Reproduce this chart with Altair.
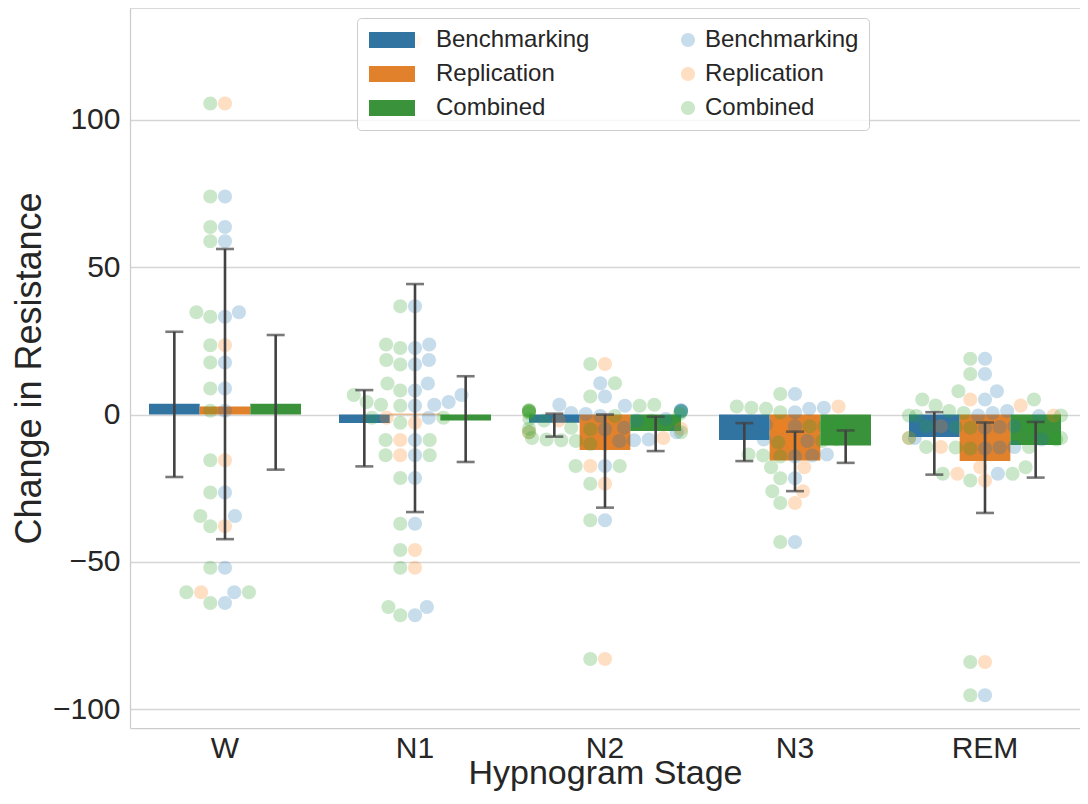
import altair as alt
import numpy as np
import pandas as pd

# ---------------- data ----------------
stages = ["W", "N1", "N2", "N3", "REM"]
series = ["Benchmarking", "Replication", "Combined"]

bench_W = [74.0, 63.7, 58.8, 34.7, 33.2, 17.7, 8.8, 1.3, -26.5, -34.4, -52.0, -60.3, -64.0]
rep_W = [105.6, 23.5, -15.5, -37.9, -60.3]
bench_N1 = [36.8, 23.8, 22.6, 18.5, 17.0, 10.5, 8.2, 6.6, 4.3, 3.3, 3.0, -1.1, -8.6,
            -13.8, -21.5, -37.1, -65.3, -68.1]
rep_N1 = [126.8, -1.1, -2.8, -8.6, -13.8, -46.0, -52.0]
bench_N2 = [10.6, 6.1, 3.3, 3.0, 1.5, 1.4, 1.2, 1.0, 0.5, 0.2, -0.5, -1.5, -2.0, -4.5,
            -5.0, -6.0, -8.5, -8.7, -9.0, -17.5, -35.9]
rep_N2 = [17.2, 1.0, -2.0, -4.8, -6.0, -8.0, -10.0, -17.5, -23.5, -83.0]
bench_N3 = [7.0, 2.3, 2.0, 0.8, -3.5, -4.0, -8.5, -9.0, -13.6, -13.9, -14.2, -21.6, -43.3]
rep_N3 = [2.7, -4.0, -9.5, -17.9, -26.0, -30.0]
bench_REM = [18.9, 13.8, 7.9, 5.1, 1.2, 0.5, -0.3, -0.5, -4.0, -4.2, -4.5, -8.0, -8.5,
             -11.0, -11.2, -11.5, -20.1, -95.3]
rep_REM = [5.1, 3.1, -0.3, -4.0, -8.0, -11.0, -17.9, -20.1, -22.4, -84.0]

mean_bench = [3.7, -2.9, -2.8, -8.6, -7.6]
mean_rep = [2.7, 0.3, -12.0, -15.6, -15.8]
mean_comb = [3.7, -2.0, -5.6, -10.5, -10.3]
ci_lo_bench = [-21.2, -17.6, -7.5, -15.8, -20.4]
ci_hi_bench = [28.1, 8.3, 0.3, -2.9, 0.8]
ci_lo_rep = [-42.3, -33.1, -31.6, -26.0, -33.4]
ci_hi_rep = [56.2, 44.3, 0.0, -5.8, -2.7]
ci_lo_comb = [-18.7, -16.1, -12.4, -16.4, -21.4]
ci_hi_comb = [27.0, 13.0, -0.7, -5.4, -2.5]

bar_colors = ["#3274a1", "#e1812c", "#3a923a"]
point_colors = ["#1f77b4", "#ff7f0e", "#2ca02c"]

# ---------------- layout constants ----------------
W, H = 950, 720
Y_DOMAIN = [-106.4, 138.0]
PX = H / (Y_DOMAIN[1] - Y_DOMAIN[0])
STEP = W / 5.0
HALF_BAND = 0.4 * STEP
R = 7.0


def swarm(vals):
    """Beeswarm offsets (pixels) computed from the values, seaborn style."""
    ys = np.asarray(vals, dtype=float) * PX
    order = np.argsort(ys, kind="stable")
    placed = []
    xs = np.zeros(len(ys))
    for idx in order:
        y = ys[idx]
        neigh = [(px, py) for (px, py) in placed if abs(y - py) < 2 * R]
        cands = [0.0]
        left = True
        for (px, py) in neigh:
            dx = np.sqrt(max((2 * R) ** 2 - (y - py) ** 2, 0.0)) * 1.05
            cands.extend([px - dx, px + dx] if left else [px + dx, px - dx])
            left = not left
        cands.sort(key=abs)
        chosen = cands[-1]
        for c in cands:
            if all((c - px) ** 2 + (y - py) ** 2 >= (2 * R) ** 2 * 0.999 for (px, py) in neigh):
                chosen = c
                break
        placed.append((chosen, y))
        xs[idx] = chosen
    return np.clip(xs, -HALF_BAND, HALF_BAND)


bench_all = [bench_W, bench_N1, bench_N2, bench_N3, bench_REM]
rep_all = [rep_W, rep_N1, rep_N2, rep_N3, rep_REM]

pt_rows = []
for st, b, r in zip(stages, bench_all, rep_all):
    vals = list(b) + list(r) + list(b) + list(r)
    labs = (["Benchmarking (points)"] * len(b) + ["Replication (points)"] * len(r)
            + ["Combined (points)"] * (len(b) + len(r)))
    offs = swarm(vals)
    for v, l, o in zip(vals, labs, offs):
        pt_rows.append({"stage": st, "series": l, "value": v, "off": float(o)})
pt_df = pd.DataFrame(pt_rows)

bar_rows = []
for i, st in enumerate(stages):
    for s, m, lo, hi in zip(series,
                            [mean_bench[i], mean_rep[i], mean_comb[i]],
                            [ci_lo_bench[i], ci_lo_rep[i], ci_lo_comb[i]],
                            [ci_hi_bench[i], ci_hi_rep[i], ci_hi_comb[i]]):
        bar_rows.append({"stage": st, "hue": s, "series": s, "mean": m, "base": 0.0,
                         "lo": lo, "hi": hi})
bar_df = pd.DataFrame(bar_rows)

# ---------------- scales & legend ----------------
legend_domain = ["Benchmarking", "Replication", "Combined",
                 "Benchmarking (points)", "Replication (points)", "Combined (points)"]
legend_colors = bar_colors + point_colors
legend_opac = [1, 1, 1, 0.25, 0.25, 0.25]
RECT = "M-5,-0.8H-0.4V0.8H-5Z"
CIRC = "M0.7,0A0.7,0.7,0,1,1,-0.7,0A0.7,0.7,0,1,1,0.7,0Z"
legend_shapes = [RECT, RECT, RECT, CIRC, CIRC, CIRC]

leg = alt.Legend(
    title=None, orient="none", legendX=227, legendY=10, columns=2,
    columnPadding=46, rowPadding=10, symbolSize=400, symbolStrokeWidth=0,
    symbolOffset=40, labelOffset=5,
    labelFontSize=24, labelFont="Liberation Sans", labelColor="#262626",
    labelLimit=400, padding=10, fillColor="rgba(255,255,255,0.8)",
    strokeColor="#cccccc", cornerRadius=4,
    labelExpr="replace(datum.label, ' (points)', '')",
)

color_enc = alt.Color("series:N", scale=alt.Scale(domain=legend_domain, range=legend_colors), legend=leg)
opac_enc = alt.Opacity("series:N", scale=alt.Scale(type="ordinal", domain=legend_domain, range=legend_opac), legend=leg)
shape_enc = alt.Shape("series:N", scale=alt.Scale(domain=legend_domain, range=legend_shapes), legend=leg)

x_enc = alt.X("stage:N", sort=stages,
              scale=alt.Scale(paddingInner=0.2, paddingOuter=0.1),
              axis=alt.Axis(title="Hypnogram Stage", labelAngle=0, grid=False, ticks=False,
                            labelPadding=5, titleY=55, titleBaseline="alphabetic"))
y_scale = alt.Scale(domain=Y_DOMAIN, nice=False, zero=False)
y_axis = alt.Axis(title="Change in Resistance", values=[-100, -50, 0, 50, 100], ticks=False,
                  labelPadding=10, titleX=-101, titleY=H / 2, titleBaseline="middle",
                  titleFontSize=36)
xoff_band = alt.XOffset("hue:N", sort=series, scale=alt.Scale(paddingInner=0, paddingOuter=0))

bars = alt.Chart(bar_df).mark_bar().encode(
    x=x_enc, xOffset=xoff_band,
    y=alt.Y("mean:Q", scale=y_scale, axis=y_axis), y2="base:Q",
    color=color_enc, opacity=opac_enc,
)

pts = alt.Chart(pt_df).mark_point(filled=True, size=400, strokeWidth=0).encode(
    x=x_enc,
    xOffset=alt.XOffset("off:Q", scale=alt.Scale(domain=[-HALF_BAND, HALF_BAND], range=[0, 2 * HALF_BAND])),
    y=alt.Y("value:Q", scale=y_scale, axis=y_axis),
    color=color_enc, opacity=opac_enc, shape=shape_enc,
)

err = alt.Chart(bar_df).mark_rule(color="#424242", strokeWidth=2.6).encode(
    x=x_enc, xOffset=xoff_band,
    y=alt.Y("lo:Q", scale=y_scale, axis=y_axis), y2="hi:Q",
)
cap_lo = alt.Chart(bar_df).mark_tick(color="#424242", thickness=2.6, size=18, orient="horizontal").encode(
    x=x_enc, xOffset=xoff_band, y=alt.Y("lo:Q", scale=y_scale, axis=y_axis),
)
cap_hi = alt.Chart(bar_df).mark_tick(color="#424242", thickness=2.6, size=18, orient="horizontal").encode(
    x=x_enc, xOffset=xoff_band, y=alt.Y("hi:Q", scale=y_scale, axis=y_axis),
)
top_spine = alt.Chart(pd.DataFrame({"k": [0]})).mark_rule(color="#cccccc", strokeWidth=1.25).encode(
    y=alt.value(0)
)

chart = alt.layer(bars, pts, err, cap_lo, cap_hi, top_spine).resolve_scale(
    xOffset="independent"
).properties(
    width=W, height=H,
    padding={"left": 122, "top": 0, "right": 0, "bottom": 68},
    autosize=alt.AutoSizeParams(type="none"),
    background="white",
).configure_view(stroke=None).configure_axis(
    labelFont="Liberation Sans", titleFont="Liberation Sans",
    labelFontSize=30, titleFontSize=34, titleFontWeight="normal",
    labelColor="#262626", titleColor="#262626",
    domainColor="#cccccc", domainWidth=1.25,
    gridColor="#d5d5d5", gridWidth=1.3,
)

chart.save("out.html", embed_options={"renderer": "svg", "actions": False})
